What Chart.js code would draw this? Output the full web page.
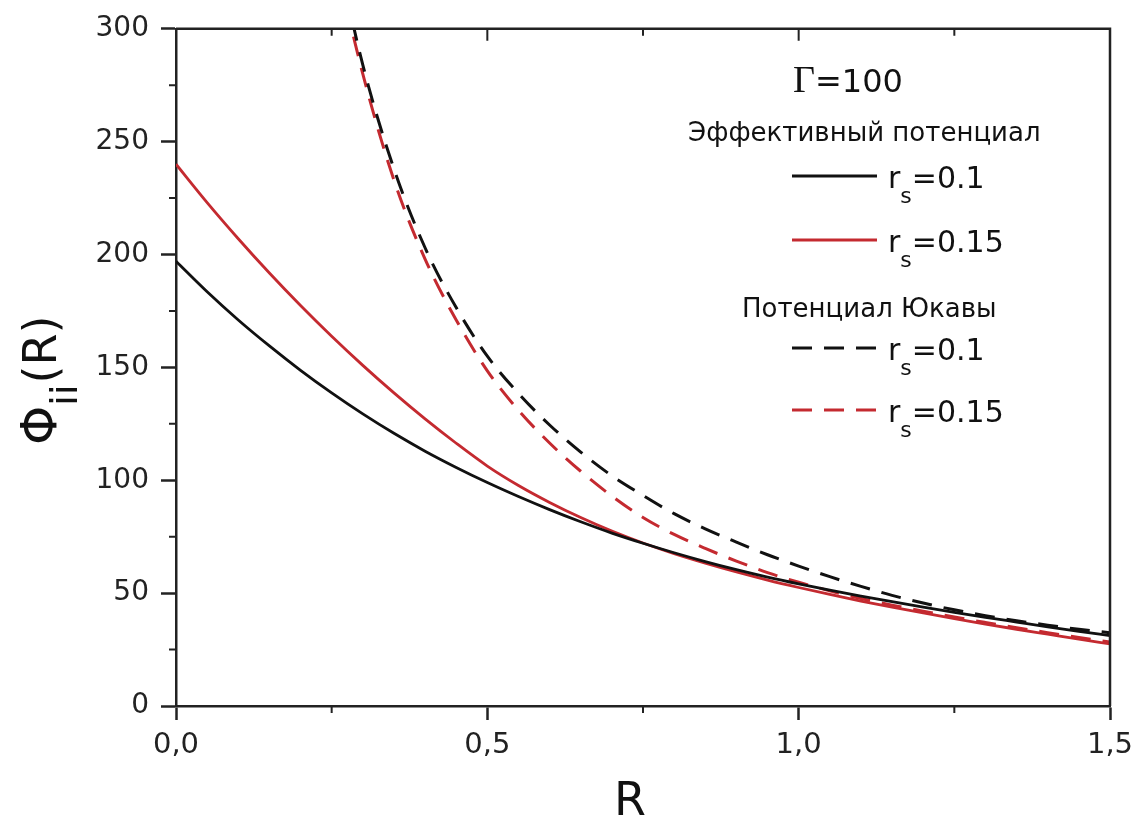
<!DOCTYPE html>
<html>
<head>
<meta charset="utf-8">
<script src="https://cdn.jsdelivr.net/npm/chart.js@4.4.1/dist/chart.umd.min.js"></script>
<style>
  html, body { margin: 0; padding: 0; background: #fff; }
  #wrap { width: 1142px; height: 819px; }
</style>
</head>
<body>
<div id="wrap"><canvas id="phiChart"></canvas></div>
<script>
const FONT = '"DejaVu Sans", "Liberation Sans", Arial, sans-serif';
const AXIS = '#222';
const RED = '#c42a30';

// R grid for the solid curves
const rSolid = [0, 0.05, 0.1, 0.15, 0.2, 0.25, 0.3, 0.35, 0.4, 0.45, 0.5, 0.55, 0.6, 0.65, 0.7, 0.75,
                0.8, 0.85, 0.9, 0.95, 1.0, 1.05, 1.1, 1.15, 1.2, 1.25, 1.3, 1.35, 1.4, 1.45, 1.5];
// effective potential
const effRs010 = [197, 183.5, 171, 159.5, 148.7, 138.7, 129.4, 120.8, 112.9, 105.7, 99, 92.8, 87, 81.6, 76.6, 72.1,
                  67.9, 64, 60.4, 57.1, 54.1, 51.3, 48.7, 46.2, 43.8, 41.5, 39.3, 37.2, 35.1, 33.1, 31.2];
const effRs015 = [240, 223, 207, 191.8, 177.4, 163.8, 150.9, 138.7, 127.2, 116.4, 106.3, 97.7, 90.2, 83.5, 77.5, 72.2,
                  67.5, 63.3, 59.4, 55.8, 52.5, 49.4, 46.5, 43.8, 41.2, 38.7, 36.3, 34, 31.8, 29.6, 27.5];

// R grid for the Yukawa curves (they leave the frame near R = 0.28)
const rYukawa = [0.25, 0.3, 0.35, 0.4, 0.45, 0.5, 0.55, 0.6, 0.65, 0.7, 0.75, 0.8, 0.85, 0.9, 0.95,
                 1.0, 1.05, 1.1, 1.15, 1.2, 1.25, 1.3, 1.35, 1.4, 1.45, 1.5];
const yukRs010 = [345, 284, 238, 203, 176.5, 155, 138.5, 124.5, 112.5, 102, 93.3, 85.2, 78.5, 72.6, 67,
                  62, 57.3, 53, 49, 45.6, 42.6, 40, 37.8, 35.8, 34, 32.5];
const yukRs015 = [338, 280, 233, 198, 171, 148.5, 131, 116.5, 104, 93, 83.5, 76, 69.8, 64.2, 59.1,
                  54.8, 51, 47.6, 44.7, 42, 39.4, 37, 34.7, 32.5, 30.4, 28.3];

const xTicks = [0, 0.5, 1.0, 1.5];
const yTicks = [0, 50, 100, 150, 200, 250, 300];

function pts(xs, ys) {
    return xs.map((x, i) => ({ x: x, y: ys[i] }));
}

// frame, minor ticks, axis titles and the legend block
const decorPlugin = {
    id: 'decor',
    afterDraw(chart) {
        const ctx = chart.ctx;
        const a = chart.chartArea;
        const xs = chart.scales.x;
        const ys = chart.scales.y;
        ctx.save();
        ctx.strokeStyle = AXIS;
        ctx.lineWidth = 2.5;
        ctx.beginPath();
        ctx.moveTo(a.left, a.top);
        ctx.lineTo(a.right, a.top);
        ctx.lineTo(a.right, a.bottom);
        ctx.stroke();

        ctx.lineWidth = 2;
        ctx.beginPath();
        for (let v = 25; v < 300; v += 50) {
            const y = ys.getPixelForValue(v);
            ctx.moveTo(a.left - 7, y);
            ctx.lineTo(a.left, y);
        }
        for (let v = 0.25; v < 1.5; v += 0.5) {
            const x = xs.getPixelForValue(v);
            ctx.moveTo(x, a.bottom);
            ctx.lineTo(x, a.bottom + 7);
        }
        for (let v = 0.25; v < 1.5; v += 0.25) {
            const x = xs.getPixelForValue(v);
            const len = Math.abs(v % 0.5) < 1e-6 ? 12 : 7;
            ctx.moveTo(x, a.top);
            ctx.lineTo(x, a.top + len);
        }
        ctx.stroke();

        // axis titles
        ctx.fillStyle = '#111';
        ctx.textBaseline = 'alphabetic';
        ctx.textAlign = 'center';
        ctx.font = '46px ' + FONT;
        ctx.fillText('R', 630, 815);

        ctx.save();
        ctx.translate(56, 445);
        ctx.rotate(-Math.PI / 2);
        ctx.textAlign = 'left';
        ctx.font = '50px ' + FONT;
        ctx.fillText('\u03A6', 0, 0);
        let w = ctx.measureText('\u03A6').width;
        ctx.font = '38px ' + FONT;
        ctx.fillText('ii', w, 21);
        w += ctx.measureText('ii').width + 1;
        ctx.font = '46px ' + FONT;
        ctx.fillText('(R)', w, 0);
        ctx.restore();

        // legend
        ctx.textAlign = 'left';
        ctx.font = '38px "Liberation Serif", "Times New Roman", serif';
        ctx.fillText('\u0393', 793, 92);
        const gw = ctx.measureText('\u0393').width;
        ctx.font = '32px ' + FONT;
        ctx.fillText('=100', 793 + gw, 92);

        ctx.font = '26px ' + FONT;
        ctx.fillText('Эффективный потенциал', 688, 141);
        ctx.fillText('Потенциал Юкавы', 742, 317);

        const rows = [
            { y: 176, color: '#111', dash: [], text: '=0.1' },
            { y: 240, color: RED, dash: [], text: '=0.15' },
            { y: 348, color: '#111', dash: [20, 12], text: '=0.1' },
            { y: 410, color: RED, dash: [20, 12], text: '=0.15' }
        ];
        rows.forEach(row => {
            ctx.strokeStyle = row.color;
            ctx.lineWidth = 3;
            ctx.setLineDash(row.dash);
            ctx.beginPath();
            ctx.moveTo(792, row.y);
            ctx.lineTo(877, row.y);
            ctx.stroke();
            ctx.setLineDash([]);
            const base = row.y + 12;
            ctx.font = '30px ' + FONT;
            ctx.fillText('r', 888, base);
            let tx = 888 + ctx.measureText('r').width;
            ctx.font = '22px ' + FONT;
            ctx.fillText('s', tx, base + 15);
            tx += ctx.measureText('s').width;
            ctx.font = '30px ' + FONT;
            ctx.fillText(row.text, tx, base);
        });
        ctx.restore();
    }
};

new Chart(document.getElementById('phiChart'), {
    type: 'line',
    data: {
        datasets: [
            {
                label: 'Эффективный потенциал r_s=0.1',
                data: pts(rSolid, effRs010),
                borderColor: '#111',
                borderWidth: 2.8
            },
            {
                label: 'Эффективный потенциал r_s=0.15',
                data: pts(rSolid, effRs015),
                borderColor: RED,
                borderWidth: 2.8
            },
            {
                label: 'Потенциал Юкавы r_s=0.1',
                data: pts(rYukawa, yukRs010),
                borderColor: '#111',
                borderWidth: 3,
                borderDash: [20, 12]
            },
            {
                label: 'Потенциал Юкавы r_s=0.15',
                data: pts(rYukawa, yukRs015),
                borderColor: RED,
                borderWidth: 3,
                borderDash: [20, 12]
            }
        ]
    },
    options: {
        responsive: true,
        maintainAspectRatio: false,
        animation: false,
        layout: { padding: { left: 0, top: 24, right: 32, bottom: 0 } },
        elements: {
            point: { radius: 0, hoverRadius: 0 },
            line: { cubicInterpolationMode: 'monotone', fill: false }
        },
        plugins: {
            legend: { display: false },
            tooltip: { enabled: false }
        },
        scales: {
            x: {
                type: 'linear',
                min: 0,
                max: 1.5,
                afterFit(scale) { scale.height = 113; },
                afterBuildTicks(scale) { scale.ticks = xTicks.map(v => ({ value: v })); },
                ticks: {
                    font: { size: 29, family: FONT },
                    color: AXIS,
                    padding: 8,
                    maxRotation: 0,
                    callback: v => v.toFixed(1).replace('.', ',')
                },
                grid: { drawOnChartArea: false, tickLength: 14, tickWidth: 2.5, tickColor: AXIS },
                border: { color: AXIS, width: 2.5 }
            },
            y: {
                min: 0,
                max: 300,
                afterFit(scale) { scale.width = 176; },
                afterBuildTicks(scale) { scale.ticks = yTicks.map(v => ({ value: v })); },
                ticks: {
                    font: { size: 28, family: FONT },
                    color: AXIS,
                    padding: 12
                },
                grid: { drawOnChartArea: false, tickLength: 15, tickWidth: 2.5, tickColor: AXIS },
                border: { color: AXIS, width: 2.5 }
            }
        }
    },
    plugins: [decorPlugin]
});
</script>
</body>
</html>
